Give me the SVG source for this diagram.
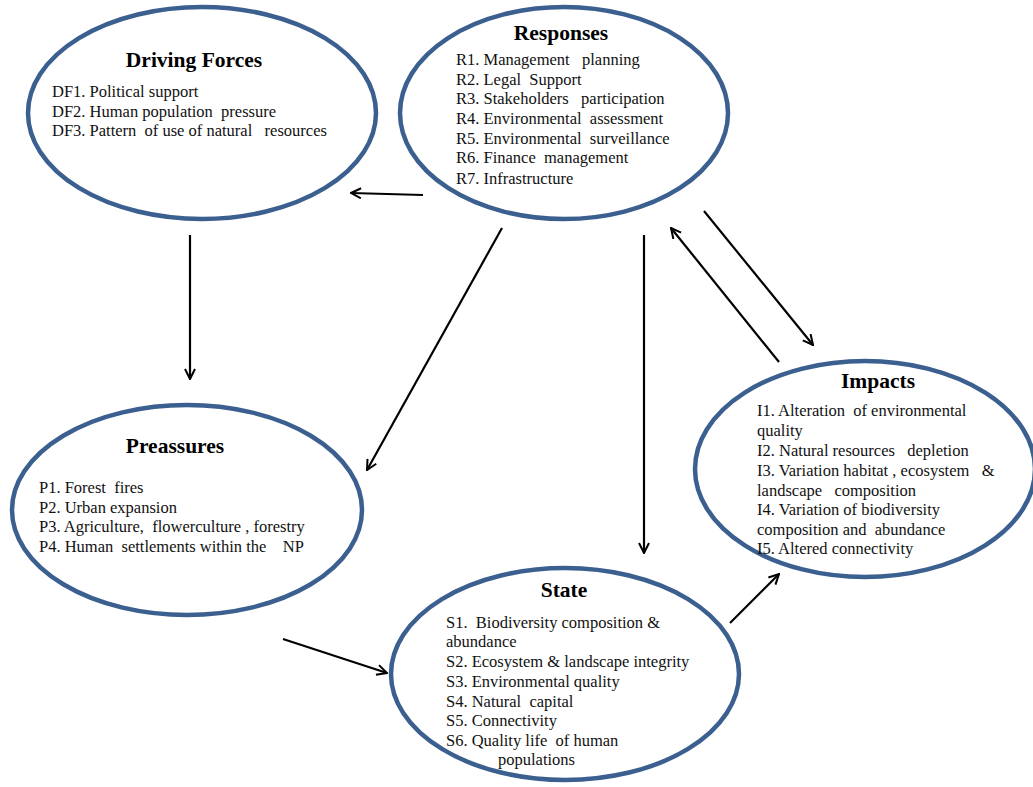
<svg xmlns="http://www.w3.org/2000/svg" width="1033" height="787" viewBox="0 0 1033 787">
<style>
.node{fill:#fff;stroke:#3b5f8f;stroke-width:4.5}
.t{font-family:"Liberation Serif","Times New Roman",serif;font-size:21.5px;font-weight:bold;fill:#000;text-anchor:middle}
.b{font-family:"Liberation Serif","Times New Roman",serif;font-size:16.5px;fill:#111;white-space:pre}
.c{stroke:#000;stroke-width:2.2;fill:none;marker-end:url(#ah)}
</style>
<defs>
<marker id="ah" viewBox="0 0 12 12" refX="11" refY="6" markerWidth="12" markerHeight="12" markerUnits="userSpaceOnUse" orient="auto">
<path d="M1,1 L11,6 L1,11" fill="none" stroke="#000" stroke-width="2"/>
</marker>
</defs>
<rect width="1033" height="787" fill="#fff"/>
<g id="driving-forces">
<ellipse class="node" cx="202" cy="113" rx="174" ry="106"/>
<text class="t" x="194" y="67">Driving Forces</text>
<text class="b" x="52" y="97" xml:space="preserve">DF1. Political support</text>
<text class="b" x="52" y="117" xml:space="preserve">DF2. Human population  pressure</text>
<text class="b" x="52" y="136" xml:space="preserve">DF3. Pattern  of use of natural   resources</text>
</g>
<g id="responses">
<ellipse class="node" cx="564" cy="113" rx="164" ry="106"/>
<text class="t" x="561" y="40">Responses</text>
<text class="b" x="456" y="65" xml:space="preserve">R1. Management   planning</text>
<text class="b" x="456" y="85" xml:space="preserve">R2. Legal  Support</text>
<text class="b" x="456" y="104" xml:space="preserve">R3. Stakeholders   participation</text>
<text class="b" x="456" y="124" xml:space="preserve">R4. Environmental  assessment</text>
<text class="b" x="456" y="144" xml:space="preserve">R5. Environmental  surveillance</text>
<text class="b" x="456" y="163" xml:space="preserve">R6. Finance  management</text>
<text class="b" x="456" y="184" xml:space="preserve">R7. Infrastructure</text>
</g>
<g id="pressures">
<ellipse class="node" cx="187" cy="510" rx="175" ry="105"/>
<text class="t" x="175" y="453">Preassures</text>
<text class="b" x="39" y="493" xml:space="preserve">P1. Forest  fires</text>
<text class="b" x="39" y="513" xml:space="preserve">P2. Urban expansion</text>
<text class="b" x="39" y="532" xml:space="preserve">P3. Agriculture,  flowerculture , forestry</text>
<text class="b" x="39" y="552" xml:space="preserve">P4. Human  settlements within the    NP</text>
</g>
<g id="state">
<ellipse class="node" cx="565" cy="674" rx="174" ry="106"/>
<text class="t" x="564" y="597">State</text>
<text class="b" x="446" y="628" xml:space="preserve">S1.  Biodiversity composition &amp;</text>
<text class="b" x="446" y="647" xml:space="preserve">abundance</text>
<text class="b" x="446" y="667" xml:space="preserve">S2. Ecosystem &amp; landscape integrity</text>
<text class="b" x="446" y="687" xml:space="preserve">S3. Environmental quality</text>
<text class="b" x="446" y="707" xml:space="preserve">S4. Natural  capital</text>
<text class="b" x="446" y="726" xml:space="preserve">S5. Connectivity</text>
<text class="b" x="446" y="746" xml:space="preserve">S6. Quality life  of human</text>
<text class="b" x="498" y="765" xml:space="preserve">populations</text>
</g>
<g id="impacts">
<ellipse class="node" cx="865" cy="469" rx="170" ry="108"/>
<text class="t" x="878" y="388">Impacts</text>
<text class="b" x="757" y="416" xml:space="preserve">I1. Alteration  of environmental</text>
<text class="b" x="757" y="436" xml:space="preserve">quality</text>
<text class="b" x="757" y="456" xml:space="preserve">I2. Natural resources   depletion</text>
<text class="b" x="757" y="476" xml:space="preserve">I3. Variation habitat , ecosystem   &amp;</text>
<text class="b" x="757" y="496" xml:space="preserve">landscape   composition</text>
<text class="b" x="757" y="515" xml:space="preserve">I4. Variation of biodiversity</text>
<text class="b" x="757" y="535" xml:space="preserve">composition and  abundance</text>
<text class="b" x="757" y="554" xml:space="preserve">I5. Altered connectivity</text>
</g>
<g id="connectors">
<line class="c" x1="423" y1="195" x2="351" y2="193"/>
<line class="c" x1="190" y1="235" x2="190" y2="379"/>
<line class="c" x1="502" y1="228" x2="367" y2="470"/>
<line class="c" x1="644" y1="235" x2="644" y2="553"/>
<line class="c" x1="779" y1="362" x2="671" y2="228"/>
<line class="c" x1="704" y1="211" x2="813" y2="345"/>
<line class="c" x1="283" y1="639" x2="387" y2="673"/>
<line class="c" x1="730" y1="623" x2="779" y2="574"/>
</g>
</svg>
